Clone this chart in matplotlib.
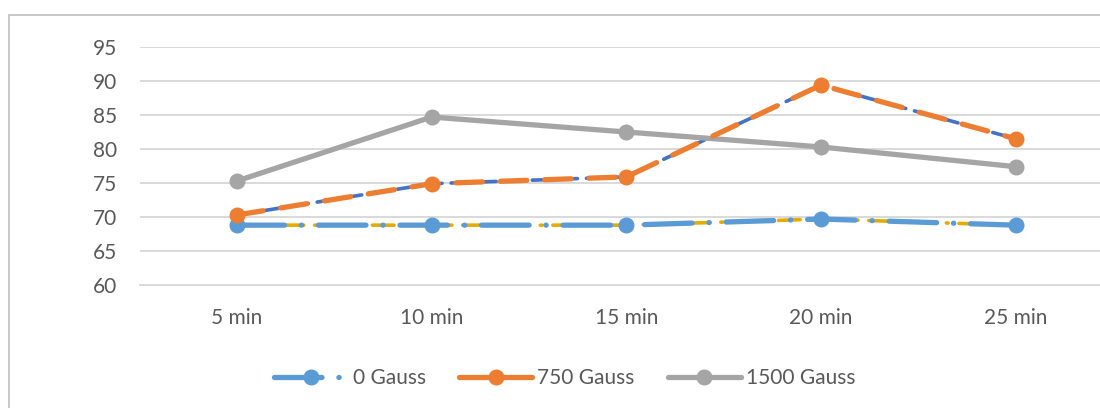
import matplotlib.pyplot as plt
from matplotlib.lines import Line2D
from matplotlib.patches import Rectangle

times = ['5 min', '10 min', '15 min', '20 min', '25 min']
gauss_0 = [68.8, 68.8, 68.8, 69.7, 68.8]
gauss_750 = [70.3, 74.9, 75.9, 89.4, 81.5]
gauss_1500 = [75.3, 84.7, 82.5, 80.3, 77.4]
labels = ['0 Gauss', '750 Gauss', '1500 Gauss']

blue = '#5B9BD5'
orange = '#ED7D31'
gray = '#A5A5A5'
dark_blue = '#4472C4'
gold = '#E5AC00'

plt.rcParams['font.family'] = ['Lato', 'DejaVu Sans']

W, H = 1100, 408
fig = plt.figure(figsize=(11, 4.08), dpi=100)

# outer chart border (cropped on the right and bottom)
fig.add_artist(Rectangle((9 / W, -0.1), 1.2, (H - 15) / H + 0.1,
                         transform=fig.transFigure, fill=False,
                         edgecolor='#BFBFBF', linewidth=1.2))

left, right = 139.6, 1113
ax = fig.add_axes([left / W, (H - 285) / H, (right - left) / W, 238 / H])

x = list(range(len(times)))

# hidden helper series lying under the main ones
ax.plot(x, gauss_0, color=gold, lw=2.6, zorder=2,
        dashes=(6, 3, 0.5, 3), dash_capstyle='round')
ax.plot(x, gauss_750, color=dark_blue, lw=2.6, zorder=2,
        dashes=(5, 2.5), dash_capstyle='round')

ax.plot(x, gauss_1500, color=gray, lw=3.8, marker='o', markersize=10.5,
        solid_capstyle='round', zorder=3, label=labels[2])
ax.plot(x, gauss_0, color=blue, lw=3.8, marker='o', markersize=10.5,
        dashes=(9, 3.2, 0.05, 3.2), dash_capstyle='round', zorder=4,
        label=labels[0])
ax.plot(x, gauss_750, color=orange, lw=3.8, marker='o', markersize=10.5,
        dashes=(5, 3.4), dash_capstyle='round', zorder=4, label=labels[1])

ax.set_xlim(-0.5, len(times) - 0.5)
ax.set_ylim(60, 95)
ax.set_yticks(range(60, 96, 5))
ax.set_xticks(x)
ax.set_xticklabels(times)
ax.grid(axis='y', color='#D9D9D9', lw=1.4)
ax.set_axisbelow(True)
for s in ['top', 'right', 'left']:
    ax.spines[s].set_visible(False)
ax.spines['bottom'].set_color('#D9D9D9')
ax.spines['bottom'].set_linewidth(1.4)
ax.tick_params(axis='both', length=0, labelsize=15, colors='#595959')
ax.tick_params(axis='y', pad=16.5)
ax.tick_params(axis='x', pad=16.5)

handles = [
    Line2D([], [], color=blue, lw=3.8, marker='o', markersize=10.5,
           dashes=(9, 3.2, 0.05, 3.2), dash_capstyle='round'),
    Line2D([], [], color=orange, lw=3.8, marker='o', markersize=10.5,
           solid_capstyle='round'),
    Line2D([], [], color=gray, lw=3.8, marker='o', markersize=10.5,
           solid_capstyle='round'),
]
fig.legend(handles, labels, loc='center', ncol=3, frameon=False,
           bbox_to_anchor=(565 / W, (H - 378) / H), fontsize=15,
           handlelength=3.5, handletextpad=0.25, columnspacing=1.6,
           labelcolor='#595959')

fig.savefig('out.png', dpi=100)
